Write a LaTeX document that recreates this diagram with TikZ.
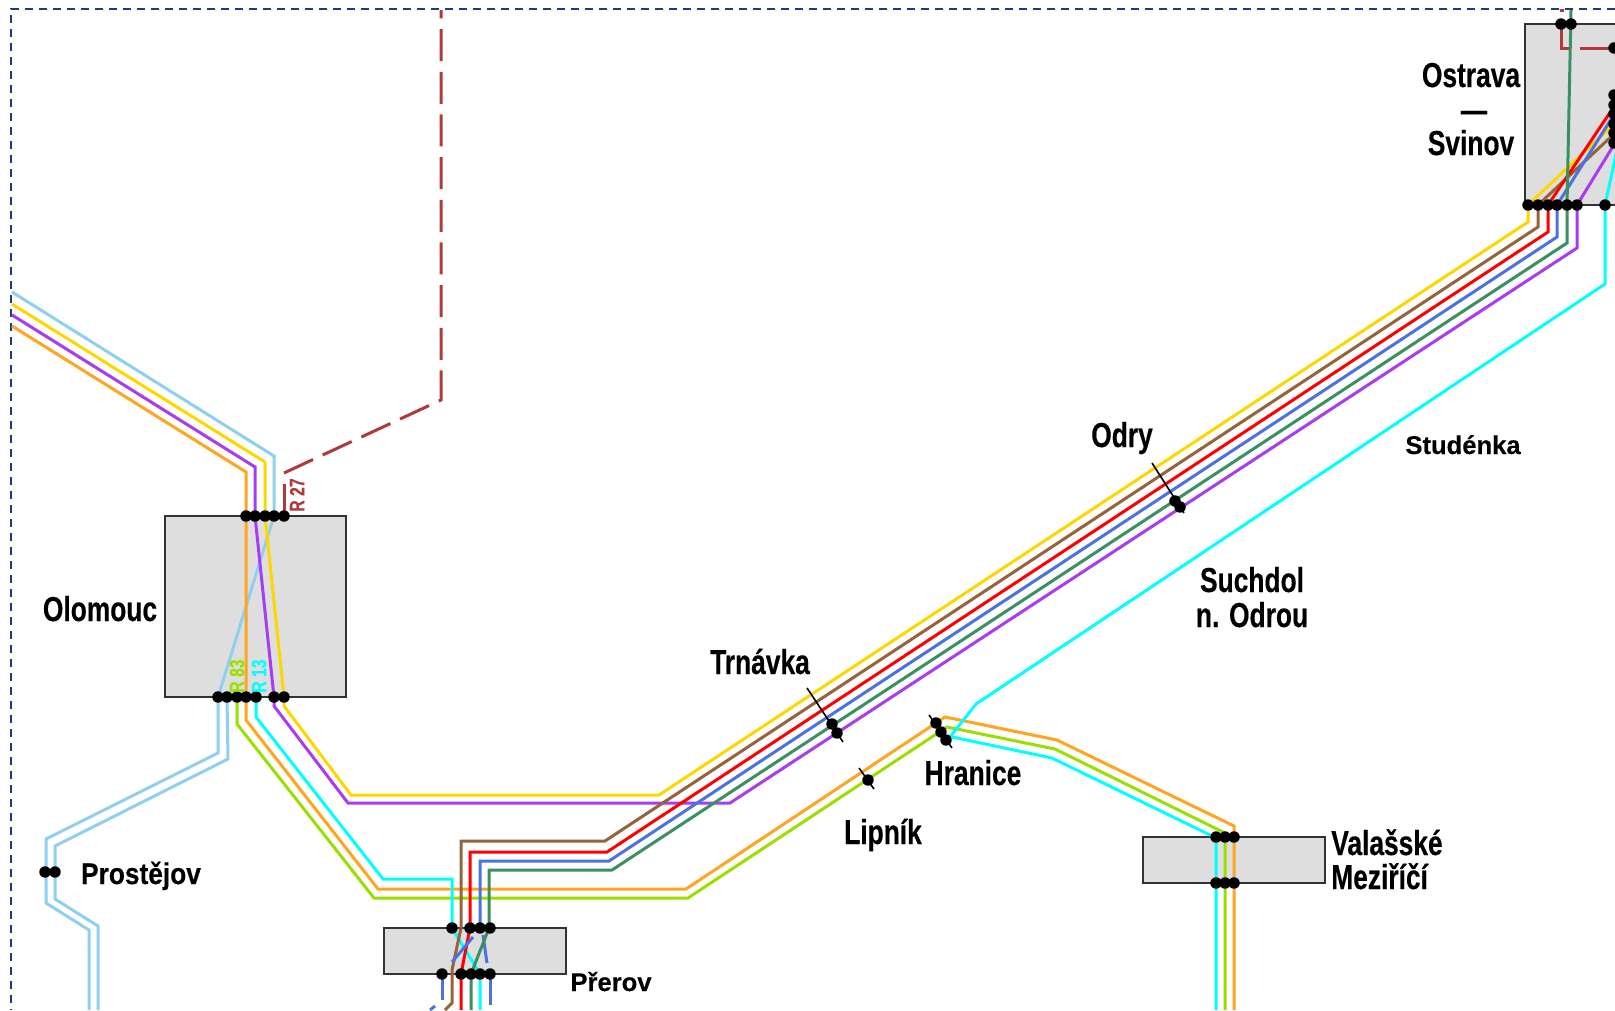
\documentclass[tikz,border=0pt]{standalone}
\usepackage{fontspec}
\setmainfont{Liberation Sans}[BoldFeatures={FakeBold=0.2}]
\newfontfamily\condfont[FakeStretch=0.76,BoldFeatures={FakeBold=0.3}]{Liberation Sans}
\newfontfamily\midfont[FakeStretch=0.88,BoldFeatures={FakeBold=0.25}]{Liberation Sans}
\definecolor{cOrange}{HTML}{FFA51F}
\definecolor{cPurple}{HTML}{A83CF0}
\definecolor{cYellow}{HTML}{FFD700}
\definecolor{cSky}{HTML}{8FD0EE}
\definecolor{cBrown}{HTML}{96633A}
\definecolor{cRed}{HTML}{FF0000}
\definecolor{cBlue}{HTML}{4A72E0}
\definecolor{cGreen}{HTML}{3A9060}
\definecolor{cLime}{HTML}{9ADF00}
\definecolor{cCyan}{HTML}{00FFFF}
\definecolor{cLoco}{HTML}{B03A3A}
\definecolor{cFrame}{HTML}{1F3A80}
\definecolor{cBox}{HTML}{DEDEDE}
\tikzset{
  x=0.75pt,y=-0.75pt,
  trackline/.style={line width=2.25pt,line join=miter},
  stationbox/.style={fill=cBox,draw=black!80,line width=1.7pt},
  tick/.style={line width=1.2pt,black},
  frameline/.style={cFrame,line width=1.35pt,dash pattern=on 6pt off 4.5pt},
  biglabel/.style={anchor=base,inner sep=0pt,font=\condfont\bfseries\fontsize{26}{26}\selectfont,text=black},
  midlabel/.style={anchor=base,inner sep=0pt,font=\midfont\bfseries\fontsize{22.4}{22.4}\selectfont,text=black},
  smalllabel/.style={anchor=base,inner sep=0pt,font=\bfseries\fontsize{19.2}{19.2}\selectfont,text=black},
  rlabel/.style={inner sep=0pt,rotate=90,font=\condfont\bfseries\fontsize{15.5}{15.5}\selectfont}
}
\newcommand{\stopdot}[2]{\fill[black] (#1,#2) circle[radius=4.3pt];}
\begin{document}
\begin{tikzpicture}
\useasboundingbox (0,0) rectangle (1615,1010);
\begin{scope}
\clip (0,0) rectangle (1615,1010);
\fill[white] (0,0) rectangle (1615,1010);
% frame
\draw[frameline] (1615,9) -- (11,9) -- (11,1010);
% boxes
\draw[stationbox] (165,516) rectangle (346,697);
\draw[stationbox] (384,928) rectangle (566,974);
\draw[stationbox] (1143,837) rectangle (1325,883);
\draw[stationbox] (1525,24) rectangle (1640,205);
% loco dashed
\draw[trackline,cLoco] (284,516) -- (284,484);
\draw[trackline,cLoco,dash pattern=on 24pt off 8pt] (284,473) -- (441,400) -- (441,10);
\draw[trackline,cLoco] (1561,24) -- (1561,48) -- (1570,48);
\draw[trackline,cLoco] (1580,48) -- (1615,48);
\draw[trackline,cLoco] (1560,10) -- (1564,10);
% Sky line
\draw[trackline,cSky] (12,292) -- (274,456) -- (274,516) -- (218,697) -- (218,753) -- (46,839) -- (46,903) -- (89,930) -- (89,1010);
\draw[trackline,cSky] (227,697) -- (228,759) -- (55,846) -- (55,899) -- (98,926) -- (98,1010);
% Orange
\draw[trackline,cOrange] (12,326) -- (246,472) -- (246,720) -- (378,889) -- (686,889) -- (945,717) -- (1057,740) -- (1234,826) -- (1234,1010);
% Lime
\draw[trackline,cLime] (237,697) -- (237,724) -- (374,898) -- (688,898) -- (947,727) -- (1055,749) -- (1225,833) -- (1225,1010);
% Cyan
\draw[trackline,cCyan] (256,697) -- (256,717) -- (383,879) -- (452,879) -- (452,928) -- (480,974) -- (480,1010);
\draw[trackline,cCyan] (1216,1010) -- (1216,838) -- (1210,835) -- (1052,758) -- (952,737);
\draw[trackline,cCyan] (950,737) -- (976,704) -- (1605,284) -- (1605,205) -- (1617,150);
% Yellow
\draw[trackline,cYellow] (265,462) -- (12,304);
\draw[trackline,cYellow] (265,462) -- (265,516) -- (284,697) -- (284,706) -- (351,795) -- (659,795) -- (1528,222) -- (1528,205) -- (1615,123);
% Purple
\draw[trackline,cPurple] (12,315) -- (255,467) -- (255,516) -- (274,697) -- (274,706) -- (348,803) -- (730,803) -- (1577,248) -- (1577,205) -- (1615,143);
% Brown
\draw[trackline,cBrown] (445,1010) -- (452,1003) -- (452,970) -- (461,928) -- (461,841) -- (605,841) -- (1538,227) -- (1538,205) -- (1615,133);
% Red
\draw[trackline,cRed] (461,1010) -- (461,974) -- (470,928) -- (470,852) -- (607,852) -- (1548,232) -- (1548,205) -- (1615,105);
% Blue
\draw[trackline,cBlue] (480,928) -- (480,861) -- (609,861) -- (1557,237) -- (1557,205) -- (1615,113);
\draw[trackline,cBlue] (473,937) -- (452,962);
\draw[trackline,cBlue] (483,935) -- (487,963);
\draw[trackline,cBlue] (490,974) -- (490,1005);
\draw[trackline,cBlue] (442,974) -- (442,1000);
\draw[trackline,cBlue] (430,1010) -- (435,1006);
% Green
\draw[trackline,cGreen] (471,1010) -- (471,974) -- (489,928) -- (489,870) -- (612,870) -- (1567,243) -- (1567,205) -- (1571,10);
% ticks
\draw[tick] (807,688) -- (843,742);
\draw[tick] (859,768) -- (874,789);
\draw[tick] (929,715) -- (952,748);
\draw[tick] (1152,463) -- (1184,513);
% stops
\foreach \x in {246,255,265,274,284} {\stopdot{\x}{516}}
\foreach \x in {218,227,237,246,256,274,284} {\stopdot{\x}{697}}
\foreach \x in {452,470,480,490} {\stopdot{\x}{928}}
\foreach \x in {442,461,471,480,490} {\stopdot{\x}{974}}
\foreach \x in {1216,1225,1234} {\stopdot{\x}{837}\stopdot{\x}{883}}
\foreach \x in {1561,1571} {\stopdot{\x}{24}}
\foreach \x in {1528,1538,1548,1557,1567,1577,1605} {\stopdot{\x}{205}}
\foreach \y in {48,95,105,114,124,133,143} {\stopdot{1614}{\y}}
\stopdot{45}{872}\stopdot{55}{872}
\stopdot{832}{724}\stopdot{837}{733}
\stopdot{868}{780}
\stopdot{936}{723}\stopdot{941}{732}\stopdot{946}{740}
\stopdot{1175}{501}\stopdot{1180}{507}
% labels
\node[biglabel] (olomouc) at (100,621) {Olomouc};
\node[biglabel] (ostrava) at (1471,87) {Ostrava};
\node[biglabel] (osdash) at (1474,122) {—};
\node[biglabel] (svinov) at (1471,155) {Svinov};
\node[biglabel] (odry) at (1122,447) {Odry};
\node[biglabel] (suchdol) at (1252,592) {Suchdol};
\node[biglabel] (nodrou) at (1252,627) {n. Odrou};
\node[biglabel] (trnavka) at (760,674) {Trnávka};
\node[biglabel] (hranice) at (973,785) {Hranice};
\node[biglabel] (lipnik) at (883,844) {Lipník};
\node[biglabel,anchor=base west] (valasske) at (1331,855) {Valašské};
\node[biglabel,anchor=base west] (mezirici) at (1331,889) {Meziříčí};
\node[midlabel] (prostejov) at (141,884) {Prostějov};
\node[smalllabel] (prerov) at (611,991) {Přerov};
\node[smalllabel] (studenka) at (1463,454) {Studénka};
\node[rlabel,text=cLoco] (r27) at (297,495) {R 27};
\node[rlabel,text=cLime] (r83) at (237,676) {R 83};
\node[rlabel,text=cCyan] (r13) at (259,676) {R 13};
\end{scope}
\end{tikzpicture}
\end{document}
